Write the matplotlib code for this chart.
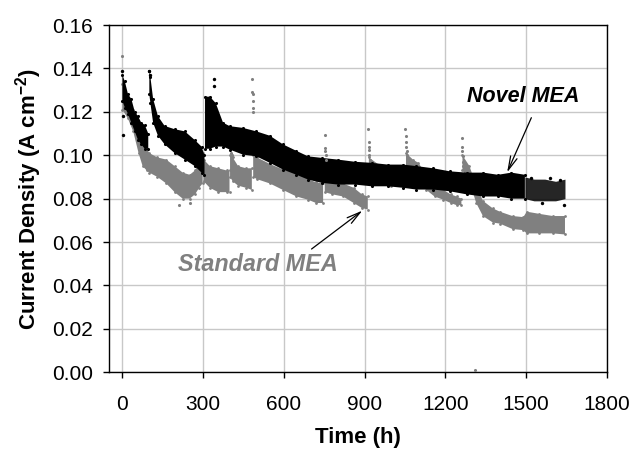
import numpy as np
import matplotlib
matplotlib.use("Agg")
import matplotlib.pyplot as plt

plt.rcParams['font.family'] = ['Liberation Sans', 'DejaVu Sans']
plt.rcParams['mathtext.fontset'] = 'custom'
plt.rcParams['mathtext.rm'] = 'Liberation Sans'
plt.rcParams['mathtext.bf'] = 'Liberation Sans:bold'

nan = np.nan

# Novel MEA: band (upper / lower edge of the dot cloud), nan = restart
novel_time = [0, 9, 21, 33, 46, 58, 70, 83, 96, nan,
              100, 104, 114, 132, 157, 194, 232, 269, 294, 305, nan,
              307, 325, 347, 374, 399, 448, 498, 548, 597, 647, 690, 740, 801,
              864, 926, 987, 1043, 1093, 1155, 1217, 1279, 1341, 1396, 1446, 1496]
novel_hi = [0.137, 0.134, 0.128, 0.126, 0.120, 0.118, 0.115, 0.114, 0.110, nan,
            0.139, 0.136, 0.126, 0.118, 0.1135, 0.112, 0.111, 0.107, 0.104, 0.100, nan,
            0.127, 0.127, 0.124, 0.115, 0.1134, 0.1126, 0.111, 0.109, 0.105, 0.102, 0.0995, 0.0988, 0.098,
            0.097, 0.0965, 0.0957, 0.0957, 0.095, 0.094, 0.0926, 0.092, 0.092, 0.091, 0.092, 0.091]
novel_lo = [0.125, 0.122, 0.119, 0.115, 0.111, 0.107, 0.105, 0.103, 0.103, nan,
            0.128, 0.124, 0.115, 0.109, 0.105, 0.101, 0.098, 0.095, 0.092, 0.091, nan,
            0.103, 0.103, 0.104, 0.104, 0.1026, 0.1003, 0.0995, 0.0965, 0.0934, 0.091, 0.0888, 0.0873, 0.0865,
            0.0865, 0.0857, 0.0857, 0.085, 0.0842, 0.0842, 0.0834, 0.082, 0.081, 0.081, 0.080, 0.080]
# sparse tail after 1500 h
novel_tail_time = [1496, 1530, 1570, 1610, 1645]
novel_tail_hi = [0.090, 0.089, 0.089, 0.088, 0.089]
novel_tail_lo = [0.080, 0.079, 0.079, 0.079, 0.080]
# stray points
novel_pts_t = [0, 1, 2, 100, 101, 340, 341, 1560, 1640, 1520, 1590, 1625]
novel_pts_v = [0.139, 0.1095, 0.118, 0.139, 0.137, 0.135, 0.132, 0.078, 0.077, 0.0895, 0.0895, 0.0885]

# Standard MEA
standard_time = [0, 20, 40, 60, 75, 90, 100, 130, 163, 194, 224, 250, 270, 285, 298, nan,
                 302, 325, 356, 387, 398, nan,
                 400, 410, 430, 460, 481, nan,
                 486, 500, 548, 597, 647, 690, 720, 746, nan,
                 752, 780, 820, 860, 890, 912, nan,
                 916, 960, 1000, 1050, nan,
                 1054, 1080, 1100, 1130, 1160, 1193, 1220, 1242, 1260, nan,
                 1264, 1290, 1315, 1340, 1377, 1403, 1450, 1490, 1503, 1550, 1600, 1645]
standard_hi = [0.133, 0.127, 0.121, 0.113, 0.106, 0.103, 0.101, 0.099, 0.098, 0.095, 0.092, 0.091, 0.093, 0.097, 0.101, nan,
               0.098, 0.095, 0.094, 0.093, 0.093, nan,
               0.100, 0.099, 0.095, 0.094, 0.094, nan,
               0.100, 0.099, 0.096, 0.0934, 0.092, 0.089, 0.0875, 0.087, nan,
               0.092, 0.089, 0.087, 0.085, 0.082, 0.081, nan,
               0.099, 0.095, 0.093, 0.092, nan,
               0.101, 0.098, 0.0965, 0.091, 0.087, 0.084, 0.082, 0.081, 0.080, nan,
               0.100, 0.095, 0.086, 0.079, 0.0755, 0.074, 0.072, 0.0715, 0.074, 0.073, 0.072, 0.072]
standard_lo = [0.121, 0.117, 0.111, 0.101, 0.095, 0.093, 0.092, 0.090, 0.087, 0.083, 0.080, 0.080, 0.082, 0.085, 0.087, nan,
               0.088, 0.085, 0.083, 0.083, 0.083, nan,
               0.090, 0.088, 0.086, 0.085, 0.084, nan,
               0.090, 0.089, 0.087, 0.084, 0.081, 0.0795, 0.078, 0.078, nan,
               0.083, 0.082, 0.081, 0.078, 0.0757, 0.075, nan,
               0.088, 0.087, 0.086, 0.086, nan,
               0.095, 0.092, 0.089, 0.084, 0.081, 0.0795, 0.078, 0.077, 0.077, nan,
               0.093, 0.088, 0.078, 0.072, 0.069, 0.0685, 0.066, 0.0655, 0.064, 0.064, 0.064, 0.0635]
# restart spikes and stray points
standard_pts_t = [0, 483, 483, 484, 484, 485, 485, 752, 753, 754, 755, 756,
                  914, 915, 916, 917, 918, 919, 1052, 1053, 1054, 1055, 1056, 1057,
                  1262, 1263, 1264, 1265, 1266, 1267, 1310, 405, 406, 408, 210, 250]
standard_pts_v = [0.1457, 0.135, 0.129, 0.128, 0.125, 0.122, 0.120, 0.1095, 0.1035, 0.102, 0.100, 0.098,
                  0.112, 0.106, 0.104, 0.1026, 0.100, 0.098, 0.112, 0.109, 0.106, 0.104, 0.102, 0.100,
                  0.108, 0.104, 0.102, 0.0995, 0.097, 0.095, 0.001, 0.101, 0.100, 0.099, 0.077, 0.078]

GRAY = '#808080'

fig = plt.figure(figsize=(6.34, 4.51), dpi=100)
ax = fig.add_axes([0.1719, 0.1745, 0.785, 0.770])

# standard MEA band
ax.fill_between(standard_time, standard_lo, standard_hi, color=GRAY, lw=0, zorder=2)
ax.scatter(standard_time, standard_hi, s=4, color=GRAY, lw=0, zorder=2)
ax.scatter(standard_time, standard_lo, s=4, color=GRAY, lw=0, zorder=2)

# novel MEA band
ax.fill_between(novel_time, novel_lo, novel_hi, color='black', lw=0, zorder=3)
ax.scatter(novel_time, novel_hi, s=5, color='black', lw=0, zorder=3)
ax.scatter(novel_time, novel_lo, s=5, color='black', lw=0, zorder=3)
ax.fill_between(novel_tail_time, novel_tail_lo, novel_tail_hi, color='black', alpha=0.85, lw=0, zorder=3)
ax.scatter(novel_pts_t, novel_pts_v, s=6, color='black', lw=0, zorder=3)

ax.scatter(standard_pts_t, standard_pts_v, s=5, color=GRAY, lw=0, zorder=4)

ax.set_xlim(-50, 1800)
ax.set_ylim(0, 0.16)
ax.set_xticks(np.arange(0, 1801, 300))
ax.set_yticks(np.arange(0, 0.161, 0.02))
ax.yaxis.set_major_formatter(matplotlib.ticker.FormatStrFormatter('%.2f'))
ax.grid(True, color='#c8c8c8', lw=1, zorder=0)
ax.set_axisbelow(True)
ax.tick_params(direction='out', length=4.5, width=1, labelsize=15, color='black')
ax.tick_params(axis='y', pad=7)
ax.tick_params(axis='x', pad=12)
for sp in ax.spines.values():
    sp.set_color('black')
    sp.set_linewidth(1)

ax.set_xlabel('Time (h)', fontsize=16, fontweight='bold', labelpad=9)
ax.set_ylabel(r'Current Density (A cm$\mathbf{^{-2}}$)', fontsize=16, fontweight='bold', labelpad=6)

ax.text(1488, 0.1269, 'Novel MEA', fontsize=15.5, fontweight='bold', fontstyle='italic',
        ha='center', va='center', color='black', zorder=5)
ax.text(503, 0.0495, 'Standard MEA', fontsize=16.8, fontweight='bold', fontstyle='italic',
        ha='center', va='center', color=GRAY, zorder=5)

arrow = dict(arrowstyle='->,head_length=1.0,head_width=0.25', color='black', lw=0.9, shrinkA=0, shrinkB=0)
ax.annotate('', xy=(1430, 0.0921), xytext=(1520, 0.1173), arrowprops=arrow, zorder=6)
ax.annotate('', xy=(892, 0.0745), xytext=(703, 0.0568), arrowprops=arrow, zorder=6)

fig.savefig('out.png', dpi=100)
